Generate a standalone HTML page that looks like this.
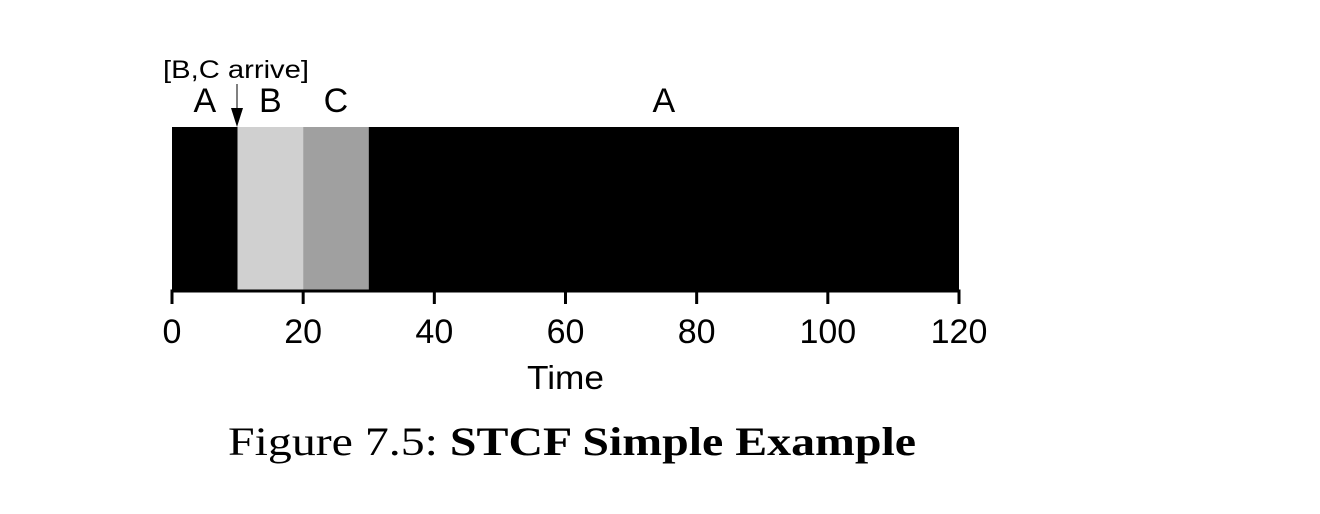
<!DOCTYPE html>
<html><head><meta charset="utf-8"><style>
body{margin:0;background:#fff;width:1320px;height:514px;overflow:hidden}
svg{display:block}
</style></head><body>
<svg width="1320" height="514" xmlns="http://www.w3.org/2000/svg" font-family="Liberation Sans, sans-serif">
<g id="bars"></g>
<g id="axis"></g>
<g id="labels"></g>
<text x="163" y="78" font-size="25" textLength="146" lengthAdjust="spacingAndGlyphs">[B,C arrive]</text>
<line x1="237" y1="84" x2="237" y2="110" stroke="#555" stroke-width="1.5"/>
<polygon points="231,108 243,108 237,127" fill="#000"/>
<text x="527" y="389" font-size="33" textLength="77" lengthAdjust="spacingAndGlyphs">Time</text>
<text x="228" y="455" font-size="40" textLength="688" lengthAdjust="spacingAndGlyphs" font-family="Liberation Serif, serif">Figure 7.5: <tspan font-weight="bold">STCF Simple Example</tspan></text>
</svg>
<script>
const segStarts=[0,10,20,30];
const segEnds=[10,20,30,120];
const segJobs=["A","B","C","A"];
const segColors=["#000","#d0d0d0","#a0a0a0","#000"];
const ticks=[0,20,40,60,80,100,120];
const x=v=>172+v*(959-172)/120;
const NS="http://www.w3.org/2000/svg";
function mk(t,a,p){const e=document.createElementNS(NS,t);for(const k in a)e.setAttribute(k,a[k]);p.appendChild(e);return e;}
const bars=document.getElementById('bars'),axis=document.getElementById('axis'),labels=document.getElementById('labels');
segStarts.forEach((s,i)=>{
 const r=mk('rect',{x:x(s),y:127,width:x(segEnds[i])-x(s),height:164,fill:segColors[i]},bars);
 
 
 const t=mk('text',{x:(x(s)+x(segEnds[i]))/2,y:112,'font-size':34,'text-anchor':'middle'},labels);
 t.textContent=segJobs[i];
 
 
});
const al=mk('line',{x1:x(0)-1.5,x2:x(120)+1.5,y1:291,y2:291,stroke:'#000','stroke-width':3},axis);


ticks.forEach(v=>{
 const l=mk('line',{x1:x(v),x2:x(v),y1:290,y2:304,stroke:'#000','stroke-width':3},axis);
 
 
 const t=mk('text',{x:x(v),y:343,'font-size':34,'text-anchor':'middle'},axis);
 t.textContent=v;
 
 
});
</script>
</body></html>
